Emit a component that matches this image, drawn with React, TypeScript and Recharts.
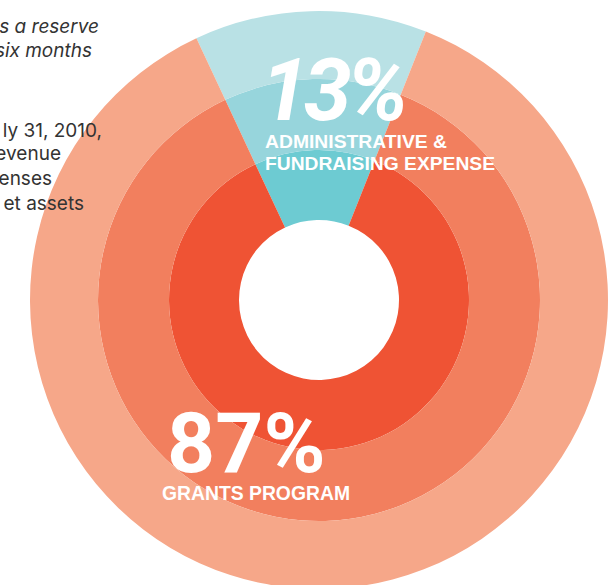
import { PieChart, Pie, Cell } from 'recharts'

const categories = ['Administrative & Fundraising Expense', 'Grants Program']
const shares = [13, 87]
const shareLabels = ['13%', '87%']
const noteLines = ['s a reserve', 'six months']
const factLines = ['ly 31, 2010,', 'evenue', 'enses', 'et assets']

// ring colours, inner -> outer; [teal, salmon]
const RINGS = [
  { inner: 80, outer: 150, colors: ['#6DCBD2', '#EF5334'] },
  { inner: 150, outer: 221, colors: ['#97D5DC', '#F27F5E'] },
  { inner: 221, outer: 289, colors: ['#B9E1E5', '#F6A789'] },
]

const data = categories.map((name, i) => ({ name, value: shares[i] }))

const CX = 319
const CY = 300
const START = 68.3

const boldFont = '"Liberation Sans", Arial, Helvetica, sans-serif'
const numFont = 'Roboto, "Liberation Sans", Arial, sans-serif'
const bodyFont = 'Inter, "Noto Sans", sans-serif'

export default function App() {
  return (
    <div style={{ position: 'absolute', left: 0, top: 0, width: 613, height: 585, overflow: 'hidden', background: '#fff' }}>
      <PieChart width={613} height={585} margin={{ top: 0, right: 0, bottom: 0, left: 0 }}>
        {RINGS.map((r, ri) => (
          <Pie
            key={ri}
            data={data}
            dataKey="value"
            nameKey="name"
            cx={CX}
            cy={CY}
            innerRadius={r.inner}
            outerRadius={r.outer}
            startAngle={START}
            endAngle={START + 360}
            stroke="none"
            isAnimationActive={false}
          >
            {data.map((d, i) => (
              <Cell key={d.name} fill={r.colors[i]} />
            ))}
          </Pie>
        ))}
      </PieChart>
      <svg
        width={613}
        height={585}
        style={{ position: 'absolute', left: 0, top: 0, pointerEvents: 'none' }}
      >
        <g fill="#333" fontFamily={bodyFont} fontSize={19} textAnchor="end">
          <text x={99} y={33} fontStyle="italic">{noteLines[0]}</text>
          <text x={92} y={57} fontStyle="italic">{noteLines[1]}</text>
          <text x={102} y={137}>{factLines[0]}</text>
          <text x={61} y={160}>{factLines[1]}</text>
          <text x={52} y={185}>{factLines[2]}</text>
          <text x={84} y={210}>{factLines[3]}</text>
        </g>
        <g fill="#fff" fontFamily={numFont} fontWeight="bold">
          <text x={261} y={120} fontSize={86} fontStyle="italic" letterSpacing={-5}>
            {shareLabels[0]}
          </text>
          <text x={167} y={472} fontSize={84} letterSpacing={0}>
            {shareLabels[1]}
          </text>
        </g>
        <g fill="#fff" fontFamily={boldFont} fontWeight="bold">
          <text x={265} y={148} fontSize={18} textLength={182} lengthAdjust="spacingAndGlyphs">
            ADMINISTRATIVE &amp;
          </text>
          <text x={265} y={170} fontSize={18} textLength={230} lengthAdjust="spacingAndGlyphs">
            FUNDRAISING EXPENSE
          </text>
          <text x={162} y={500} fontSize={20} textLength={188} lengthAdjust="spacingAndGlyphs">
            GRANTS PROGRAM
          </text>
        </g>
      </svg>
    </div>
  )
}
